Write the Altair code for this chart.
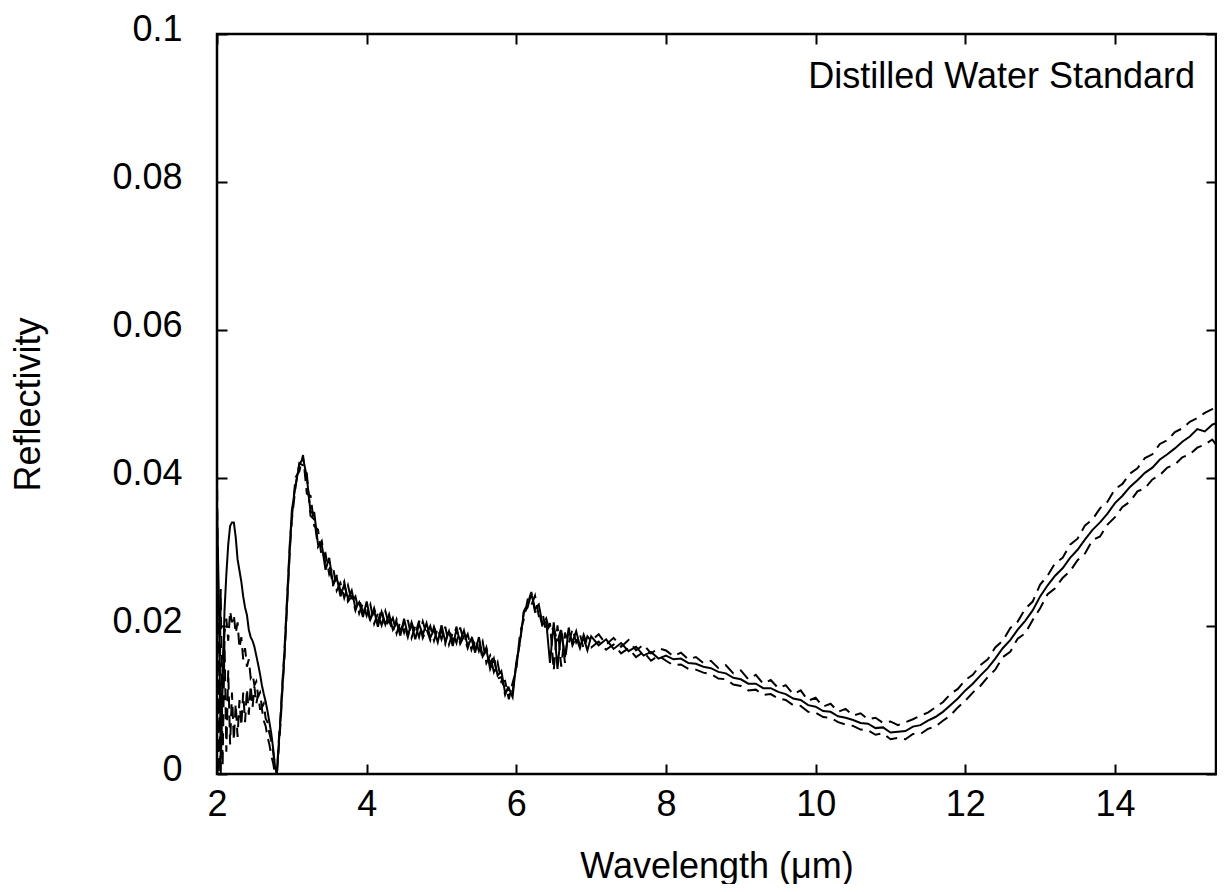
import altair as alt
import pandas as pd

# ---- wavelength sampling grid (µm) ----
WL_A = [2.000, 2.025, 2.050, 2.075, 2.100, 2.125, 2.150, 2.175, 2.200, 2.225,
        2.250, 2.275, 2.300, 2.325, 2.350, 2.375, 2.400, 2.425, 2.450, 2.475,
        2.500, 2.525, 2.550, 2.575, 2.600, 2.625, 2.650, 2.675, 2.700, 2.725,
        2.750, 2.775, 2.800, 2.825, 2.850, 2.875, 2.900, 2.925, 2.950, 2.975]
WL_B = [3.00, 3.05, 3.10, 3.15, 3.20, 3.25, 3.30, 3.35, 3.40, 3.45,
        3.50, 3.55, 3.60, 3.65, 3.70, 3.75, 3.80, 3.85, 3.90, 3.95,
        4.00, 4.05, 4.10, 4.15, 4.20, 4.25, 4.30, 4.35, 4.40, 4.45,
        4.50, 4.55, 4.60, 4.65, 4.70, 4.75, 4.80, 4.85, 4.90, 4.95,
        5.00, 5.05, 5.10, 5.15, 5.20, 5.25, 5.30, 5.35, 5.40, 5.45,
        5.50, 5.55, 5.60, 5.65, 5.70, 5.75, 5.80, 5.85, 5.90, 5.95,
        6.00, 6.05, 6.10, 6.15, 6.20, 6.25, 6.30, 6.35, 6.40, 6.45,
        6.50, 6.55, 6.60, 6.65, 6.70, 6.75, 6.80, 6.85, 6.90, 6.95]
WL_C = [7.0, 7.1, 7.2, 7.3, 7.4, 7.5, 7.6, 7.7, 7.8, 7.9,
        8.0, 8.1, 8.2, 8.3, 8.4, 8.5, 8.6, 8.7, 8.8, 8.9,
        9.0, 9.1, 9.2, 9.3, 9.4, 9.5, 9.6, 9.7, 9.8, 9.9,
        10.0, 10.1, 10.2, 10.3, 10.4, 10.5, 10.6, 10.7, 10.8, 10.9,
        11.0, 11.1, 11.2, 11.3, 11.4, 11.5, 11.6, 11.7, 11.8, 11.9,
        12.0, 12.1, 12.2, 12.3, 12.4, 12.5, 12.6, 12.7, 12.8, 12.9,
        13.0, 13.1, 13.2, 13.3, 13.4, 13.5, 13.6, 13.7, 13.8, 13.9,
        14.0, 14.1, 14.2, 14.3, 14.4, 14.5, 14.6, 14.7, 14.8, 14.9,
        15.0, 15.1, 15.2, 15.3, 15.35]

# ---- measured reflectivity (solid line) ----
MEAN_A = [0.0360, 0.0240, 0.0020, 0.0120, 0.0220, 0.0270, 0.0310, 0.0335, 0.0340, 0.0340,
          0.0320, 0.0290, 0.0275, 0.0260, 0.0240, 0.0225, 0.0215, 0.0195, 0.0185, 0.0180,
          0.0172, 0.0160, 0.0148, 0.0135, 0.0120, 0.0108, 0.0098, 0.0085, 0.0070, 0.0055,
          0.0035, 0.0010, 0.0000, 0.0040, 0.0075, 0.0120, 0.0160, 0.0210, 0.0260, 0.0310]
MEAN_B = [0.0356, 0.0390, 0.0418, 0.0427, 0.0401, 0.0354, 0.0353, 0.0310, 0.0310, 0.0276,
          0.0292, 0.0257, 0.0266, 0.0240, 0.0256, 0.0237, 0.0248, 0.0224, 0.0232, 0.0212,
          0.0233, 0.0209, 0.0221, 0.0199, 0.0219, 0.0202, 0.0216, 0.0195, 0.0205, 0.0187,
          0.0210, 0.0188, 0.0202, 0.0182, 0.0203, 0.0188, 0.0204, 0.0184, 0.0195, 0.0178,
          0.0201, 0.0179, 0.0193, 0.0173, 0.0195, 0.0180, 0.0194, 0.0173, 0.0183, 0.0164,
          0.0185, 0.0159, 0.0168, 0.0142, 0.0156, 0.0133, 0.0139, 0.0110, 0.0116, 0.0104,
          0.0151, 0.0180, 0.0218, 0.0225, 0.0244, 0.0223, 0.0229, 0.0202, 0.0206, 0.0150,
          0.0205, 0.0142, 0.0194, 0.0158, 0.0194, 0.0178, 0.0193, 0.0173, 0.0184, 0.0167]
MEAN_C = [0.0186, 0.0174, 0.0182, 0.0169, 0.0177, 0.0166, 0.0172, 0.0160, 0.0165, 0.0156,
          0.0160, 0.0155, 0.0156, 0.0150, 0.0149, 0.0145, 0.0143, 0.0138, 0.0136, 0.0130,
          0.0128, 0.0122, 0.0122, 0.0116, 0.0116, 0.0111, 0.0108, 0.0102, 0.0100, 0.0093,
          0.0091, 0.0085, 0.0084, 0.0078, 0.0076, 0.0073, 0.0069, 0.0068, 0.0062, 0.0063,
          0.0056, 0.0057, 0.0058, 0.0064, 0.0066, 0.0072, 0.0077, 0.0084, 0.0093, 0.0102,
          0.0113, 0.0122, 0.0133, 0.0143, 0.0156, 0.0170, 0.0181, 0.0195, 0.0207, 0.0221,
          0.0240, 0.0255, 0.0268, 0.0278, 0.0292, 0.0303, 0.0317, 0.0330, 0.0340, 0.0352,
          0.0366, 0.0376, 0.0388, 0.0397, 0.0407, 0.0414, 0.0425, 0.0432, 0.0440, 0.0449,
          0.0456, 0.0466, 0.0463, 0.0472, 0.0474]

# ---- upper dashed line ----
UPPER_A = [0.0410, 0.0100, 0.0000, 0.0150, 0.0190, 0.0210, 0.0180, 0.0220, 0.0205, 0.0215,
           0.0190, 0.0205, 0.0170, 0.0185, 0.0155, 0.0170, 0.0145, 0.0155, 0.0130, 0.0135,
           0.0120, 0.0125, 0.0105, 0.0110, 0.0090, 0.0095, 0.0075, 0.0070, 0.0055, 0.0045,
           0.0030, 0.0012, 0.0000, 0.0045, 0.0080, 0.0125, 0.0165, 0.0215, 0.0265, 0.0315]
UPPER_B = [0.0346, 0.0401, 0.0409, 0.0431, 0.0379, 0.0376, 0.0335, 0.0330, 0.0292, 0.0298,
           0.0270, 0.0281, 0.0248, 0.0258, 0.0238, 0.0255, 0.0233, 0.0240, 0.0217, 0.0231,
           0.0214, 0.0229, 0.0203, 0.0217, 0.0201, 0.0220, 0.0201, 0.0211, 0.0190, 0.0206,
           0.0191, 0.0208, 0.0184, 0.0200, 0.0185, 0.0206, 0.0189, 0.0200, 0.0180, 0.0197,
           0.0182, 0.0199, 0.0175, 0.0191, 0.0177, 0.0198, 0.0179, 0.0189, 0.0168, 0.0183,
           0.0166, 0.0179, 0.0150, 0.0160, 0.0138, 0.0151, 0.0124, 0.0126, 0.0101, 0.0123,
           0.0141, 0.0191, 0.0209, 0.0235, 0.0228, 0.0241, 0.0214, 0.0218, 0.0191, 0.0204,
           0.0140, 0.0201, 0.0145, 0.0191, 0.0176, 0.0196, 0.0178, 0.0189, 0.0169, 0.0186]
UPPER_C = [0.0180, 0.0189, 0.0175, 0.0184, 0.0172, 0.0181, 0.0167, 0.0175, 0.0163, 0.0170,
           0.0167, 0.0159, 0.0164, 0.0155, 0.0158, 0.0150, 0.0153, 0.0143, 0.0147, 0.0136,
           0.0140, 0.0128, 0.0134, 0.0122, 0.0127, 0.0116, 0.0120, 0.0108, 0.0113, 0.0099,
           0.0103, 0.0091, 0.0095, 0.0084, 0.0088, 0.0079, 0.0082, 0.0074, 0.0076, 0.0069,
           0.0071, 0.0066, 0.0070, 0.0074, 0.0079, 0.0083, 0.0090, 0.0097, 0.0108, 0.0115,
           0.0127, 0.0134, 0.0147, 0.0155, 0.0171, 0.0180, 0.0197, 0.0206, 0.0223, 0.0233,
           0.0256, 0.0268, 0.0285, 0.0292, 0.0310, 0.0318, 0.0336, 0.0344, 0.0359, 0.0368,
           0.0385, 0.0392, 0.0406, 0.0413, 0.0427, 0.0432, 0.0446, 0.0451, 0.0462, 0.0467,
           0.0476, 0.0481, 0.0488, 0.0493, 0.0495]

# ---- lower dashed line ----
LOWER_A = [0.0200, 0.0000, 0.0250, 0.0010, 0.0180, 0.0030, 0.0140, 0.0040, 0.0110, 0.0045,
           0.0095, 0.0050, 0.0100, 0.0065, 0.0110, 0.0070, 0.0115, 0.0080, 0.0120, 0.0090,
           0.0118, 0.0095, 0.0108, 0.0088, 0.0088, 0.0072, 0.0065, 0.0050, 0.0040, 0.0025,
           0.0015, 0.0000, 0.0000, 0.0035, 0.0070, 0.0115, 0.0155, 0.0205, 0.0255, 0.0305]
LOWER_B = [0.0343, 0.0389, 0.0420, 0.0417, 0.0406, 0.0349, 0.0344, 0.0307, 0.0315, 0.0284,
           0.0284, 0.0254, 0.0269, 0.0247, 0.0260, 0.0233, 0.0240, 0.0221, 0.0236, 0.0219,
           0.0226, 0.0206, 0.0224, 0.0206, 0.0223, 0.0198, 0.0208, 0.0192, 0.0209, 0.0194,
           0.0203, 0.0185, 0.0205, 0.0189, 0.0207, 0.0184, 0.0196, 0.0181, 0.0199, 0.0185,
           0.0194, 0.0176, 0.0196, 0.0180, 0.0199, 0.0176, 0.0186, 0.0170, 0.0187, 0.0171,
           0.0178, 0.0156, 0.0171, 0.0149, 0.0160, 0.0129, 0.0131, 0.0107, 0.0120, 0.0111,
           0.0148, 0.0179, 0.0220, 0.0229, 0.0246, 0.0219, 0.0221, 0.0199, 0.0210, 0.0192,
           0.0198, 0.0178, 0.0197, 0.0150, 0.0198, 0.0174, 0.0185, 0.0170, 0.0188, 0.0174]
LOWER_C = [0.0171, 0.0179, 0.0168, 0.0175, 0.0163, 0.0170, 0.0158, 0.0165, 0.0153, 0.0160,
           0.0153, 0.0147, 0.0148, 0.0142, 0.0141, 0.0137, 0.0135, 0.0129, 0.0128, 0.0121,
           0.0119, 0.0113, 0.0114, 0.0107, 0.0108, 0.0102, 0.0100, 0.0093, 0.0092, 0.0084,
           0.0083, 0.0077, 0.0076, 0.0070, 0.0067, 0.0065, 0.0060, 0.0059, 0.0053, 0.0055,
           0.0047, 0.0049, 0.0047, 0.0054, 0.0054, 0.0061, 0.0064, 0.0072, 0.0079, 0.0090,
           0.0099, 0.0110, 0.0119, 0.0131, 0.0141, 0.0158, 0.0165, 0.0183, 0.0190, 0.0208,
           0.0224, 0.0243, 0.0251, 0.0265, 0.0274, 0.0289, 0.0298, 0.0316, 0.0321, 0.0337,
           0.0347, 0.0361, 0.0368, 0.0382, 0.0386, 0.0398, 0.0404, 0.0414, 0.0418, 0.0428,
           0.0432, 0.0441, 0.0445, 0.0452, 0.0445]

X_TICKS = [2, 4, 6, 8, 10, 12, 14]
Y_TICKS = [0, 0.02, 0.04, 0.06, 0.08, 0.1]
ANNOTATION = ["Distilled Water Standard"]
ANNOT_X = [15.07]
ANNOT_Y = [0.0927]

WAVELENGTH = WL_A + WL_B + WL_C
rows = []
for name, vals in (("mean", MEAN_A + MEAN_B + MEAN_C),
                   ("upper", UPPER_A + UPPER_B + UPPER_C),
                   ("lower", LOWER_A + LOWER_B + LOWER_C)):
    for w, r in zip(WAVELENGTH, vals):
        rows.append({"wavelength": w, "reflectivity": r, "series": name})
df = pd.DataFrame(rows)

FONT = "Liberation Sans"
FS = 36

xscale = alt.Scale(domain=[2, 15.35], nice=False, zero=False)
yscale = alt.Scale(domain=[0, 0.1], nice=False, zero=False)

tick_common = dict(offset=-10, tickSize=10, tickWidth=2, tickColor="black",
                   domain=False, grid=False)

base = alt.Chart(df)

solid = base.transform_filter(alt.datum.series == "mean").mark_line(
    color="black", strokeWidth=2, clip=True
).encode(
    x=alt.X("wavelength:Q", scale=xscale,
            axis=alt.Axis(orient="bottom", values=X_TICKS, title="Wavelength (μm)",
                          labelFont=FONT, labelFontSize=FS, labelColor="black",
                          labelPadding=13, labelFlush=False,
                          titleFont=FONT, titleFontSize=FS, titleFontWeight="normal",
                          titleColor="black", titlePadding=27, **tick_common)),
    y=alt.Y("reflectivity:Q", scale=yscale,
            axis=alt.Axis(orient="left", values=Y_TICKS, title="Reflectivity",
                          labelExpr="datum.value == 0 ? '0' : format(datum.value, '.2~f')",
                          labelFont=FONT, labelFontSize=FS, labelColor="black",
                          labelPadding=35, labelOffset=-5,
                          titleFont=FONT, titleFontSize=FS, titleFontWeight="normal",
                          titleColor="black", titlePadding=64, **tick_common)),
)

dashed = base.transform_filter(alt.datum.series != "mean").mark_line(
    color="black", strokeWidth=2, strokeDash=[12, 7], clip=True
).encode(
    x=alt.X("wavelength:Q", scale=xscale,
            axis=alt.Axis(orient="top", values=X_TICKS, labels=False, title=None,
                          **tick_common)),
    y=alt.Y("reflectivity:Q", scale=yscale,
            axis=alt.Axis(orient="right", values=Y_TICKS, labels=False, title=None,
                          **tick_common)),
    detail="series:N",
)

label_df = pd.DataFrame({"x": ANNOT_X, "y": ANNOT_Y, "text": ANNOTATION})
text = alt.Chart(label_df).mark_text(
    align="right", baseline="alphabetic", font=FONT, fontSize=36, color="black"
).encode(
    x=alt.X("x:Q", scale=xscale, axis=None),
    y=alt.Y("y:Q", scale=yscale, axis=None),
    text="text:N",
)

chart = alt.layer(solid, dashed, text).resolve_axis(
    x="independent", y="independent"
).properties(
    width=999, height=740,
    autosize=alt.AutoSizeParams(type="none"),
    padding={"left": 209, "top": 26, "right": 1, "bottom": 110},
).configure_view(stroke="black", strokeWidth=2.5)

chart.save("out.html", embed_options={"renderer": "svg", "actions": False})
